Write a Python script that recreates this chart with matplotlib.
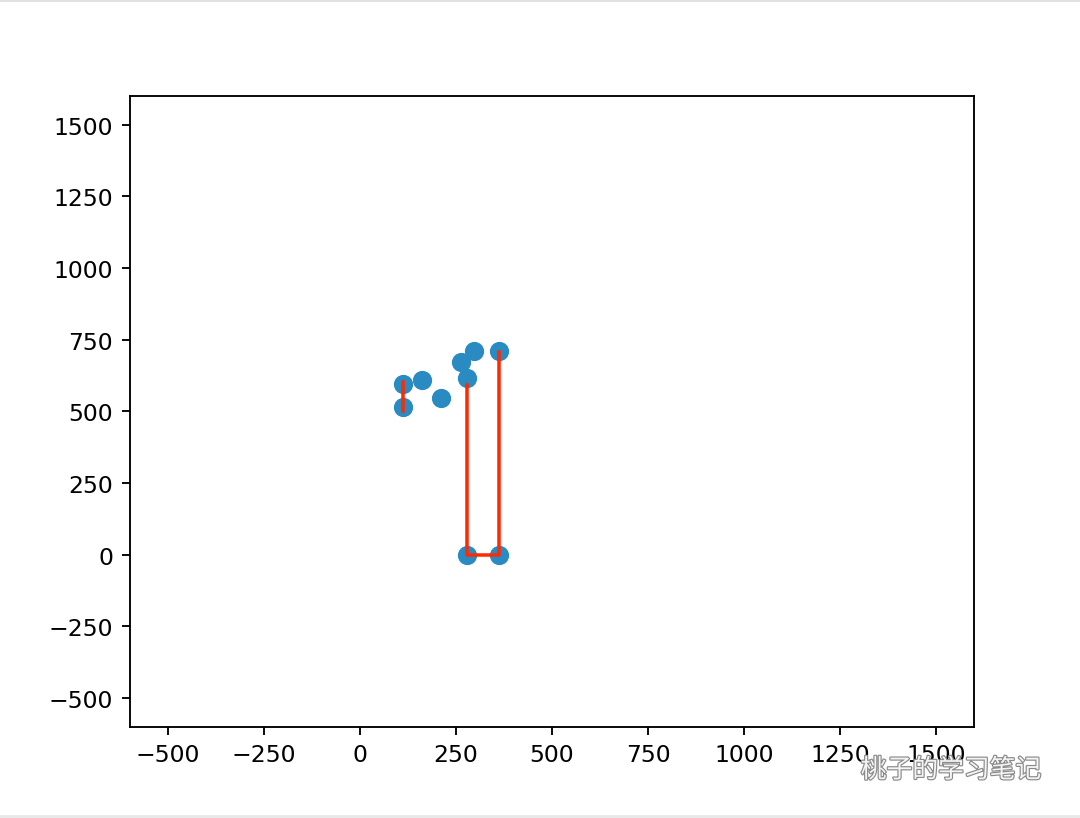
import matplotlib
matplotlib.use('Agg')
import matplotlib.pyplot as plt
import matplotlib.patheffects as pe
from matplotlib.lines import Line2D

# scatter points
xs = [111, 111, 161, 212, 263, 296, 278, 361, 278, 361]
ys = [595, 515, 610, 546, 673, 712, 615, 712, 0, 0]

# red path segments
seg1_x = [111, 111]
seg1_y = [602, 501]
seg2_x = [278, 278, 361, 361]
seg2_y = [592, 0, 0, 707]

fig = plt.figure(figsize=(6.4, 4.853), dpi=168.75)
ax = fig.add_axes([0.12, 0.1115, 0.7822, 0.770])

ax.scatter(xs, ys, s=52, color='#2a8bc3', zorder=2)
ax.plot(seg1_x, seg1_y, color='#ff2a00', lw=1.5, zorder=3)
ax.plot(seg2_x, seg2_y, color='#ff2a00', lw=1.5, zorder=3)

ax.set_xlim(-600, 1600)
ax.set_ylim(-600, 1600)
ax.set_xticks([-500, -250, 0, 250, 500, 750, 1000, 1250, 1500])
ax.set_yticks([-500, -250, 0, 250, 500, 750, 1000, 1250, 1500])

# screenshot borders
fig.add_artist(Line2D([0, 1], [0.999, 0.999], color='#e0e0e0', lw=1.2))
fig.add_artist(Line2D([0, 1], [0.003, 0.003], color='#e8e8e8', lw=1.2))

# watermark
fig.text(0.797, 0.058, '桃子的学习笔记', fontsize=11, color='#f4f4f4',
         family=['Noto Sans CJK SC', 'DejaVu Sans'], ha='left', va='center',
         path_effects=[pe.withStroke(linewidth=1.0, foreground='#8a8a8a')])

fig.savefig('out.png', dpi=168.75)
